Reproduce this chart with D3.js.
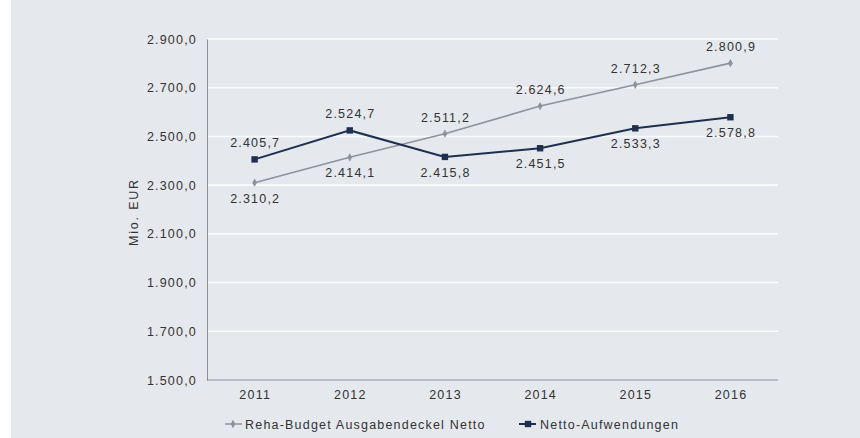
<!DOCTYPE html>
<html><head><meta charset="utf-8">
<script src="https://cdn.jsdelivr.net/npm/d3@7"></script>
<style>
html,body{margin:0;padding:0;background:#fff;}
svg{display:block;font-family:"Liberation Sans",Arial,sans-serif;}
</style></head>
<body>
<svg id="c" width="860" height="438"></svg>
<script>
const years = ["2011","2012","2013","2014","2015","2016"];
const rehaBudget = [2310.2, 2414.1, 2511.2, 2624.6, 2712.3, 2800.9];
const nettoAufw = [2405.7, 2524.7, 2415.8, 2451.5, 2533.3, 2578.8];
const yTicks = [1500, 1700, 1900, 2100, 2300, 2500, 2700, 2900];
const seriesNames = ["Reha-Budget Ausgabendeckel Netto", "Netto-Aufwendungen"];
// label placement: 1 = above, -1 = below
const rehaLabelPos = [-1, -1, 1, 1, 1, 1];
const nettoLabelPos = [1, 1, -1, -1, -1, -1];

const FS = 12.5, LS = 1.2, TXT = "#333";
const svg = d3.select("#c");
svg.append("rect").attr("x", 11).attr("y", 0).attr("width", 849).attr("height", 438).attr("fill", "#e5e8ed");

const L = 207, R = 778, T = 39, B = 380;
const fmt = v => d3.format(",.1f")(v).replace(/,/g, "#").replace(".", ",").replace(/#/g, ".");
const xb = d3.scaleBand().domain(years).range([L, R]);
const xc = d => xb(d) + xb.bandwidth() / 2;
const y = d3.scaleLinear().domain([1500, 2900]).range([B, T]);

// gridlines
svg.append("g").selectAll("line").data(yTicks.filter(t => t > 1500)).join("line")
  .attr("x1", L).attr("x2", R).attr("y1", d => y(d)).attr("y2", d => y(d))
  .attr("stroke", "#fbfcfd").attr("stroke-width", 1.6);

// y axis
const yAxis = d3.axisLeft(y).tickValues(yTicks).tickFormat(fmt).tickSize(0).tickPadding(10);
const gy = svg.append("g").attr("transform", `translate(${L},0)`).call(yAxis);
gy.select(".domain").attr("stroke", "#8c9096").attr("stroke-width", 1);
gy.selectAll("text").attr("fill", TXT).attr("font-size", FS).attr("letter-spacing", LS);

// x axis
const xAxis = d3.axisBottom(xb).tickSize(0).tickPadding(10);
const gx = svg.append("g").attr("transform", `translate(0,${B})`).call(xAxis);
gx.select(".domain").attr("d", `M${L},0H${R}`).attr("stroke", "#8c9096").attr("stroke-width", 1);
gx.selectAll("text").attr("fill", TXT).attr("font-size", FS).attr("letter-spacing", LS).attr("dx", LS / 2);

// y title
svg.append("text").attr("transform", "translate(138,212) rotate(-90)")
  .attr("text-anchor", "middle").attr("font-size", FS).attr("letter-spacing", 1.8)
  .attr("fill", TXT).text("Mio. EUR");

const line = d3.line().x((d, i) => xc(years[i])).y(d => y(d));
const rehaColor = "#8e939b", nettoColor = "#1e2f4f";

svg.append("path").datum(rehaBudget).attr("d", line).attr("fill", "none")
  .attr("stroke", rehaColor).attr("stroke-width", 1.6);
svg.append("path").datum(nettoAufw).attr("d", line).attr("fill", "none")
  .attr("stroke", nettoColor).attr("stroke-width", 2);

// markers
svg.append("g").selectAll("path").data(rehaBudget).join("path")
  .attr("d", d3.symbol().type(d3.symbolDiamond).size(20))
  .attr("transform", (d, i) => `translate(${xc(years[i])},${y(d)})`)
  .attr("fill", rehaColor);
svg.append("g").selectAll("rect").data(nettoAufw).join("rect")
  .attr("x", (d, i) => xc(years[i]) - 3.2).attr("y", d => y(d) - 3.2)
  .attr("width", 6.4).attr("height", 6.4).attr("fill", nettoColor);

// data labels
function labels(data, pos) {
  svg.append("g").selectAll("text").data(data).join("text")
    .attr("x", (d, i) => xc(years[i]) + LS / 2)
    .attr("y", (d, i) => y(d) + (pos[i] > 0 ? -12 : 20))
    .attr("text-anchor", "middle").attr("font-size", FS).attr("letter-spacing", LS)
    .attr("fill", TXT).text(d => fmt(d));
}
labels(rehaBudget, rehaLabelPos);
labels(nettoAufw, nettoLabelPos);

// legend
const lg = svg.append("g").attr("transform", "translate(0,424)");
lg.append("line").attr("x1", 225).attr("x2", 242).attr("y1", 0).attr("y2", 0).attr("stroke", rehaColor).attr("stroke-width", 1.5);
lg.append("path").attr("d", d3.symbol().type(d3.symbolDiamond).size(20)).attr("transform", "translate(233,0)").attr("fill", rehaColor);
lg.append("text").attr("x", 245).attr("y", 4.5).attr("font-size", FS).attr("letter-spacing", LS).attr("fill", TXT).text(seriesNames[0]);
lg.append("line").attr("x1", 519).attr("x2", 536).attr("y1", 0).attr("y2", 0).attr("stroke", nettoColor).attr("stroke-width", 2);
lg.append("rect").attr("x", 524.8).attr("y", -3.2).attr("width", 6.4).attr("height", 6.4).attr("fill", nettoColor);
lg.append("text").attr("x", 540).attr("y", 4.5).attr("font-size", FS).attr("letter-spacing", LS).attr("fill", TXT).text(seriesNames[1]);
</script>
</body></html>
